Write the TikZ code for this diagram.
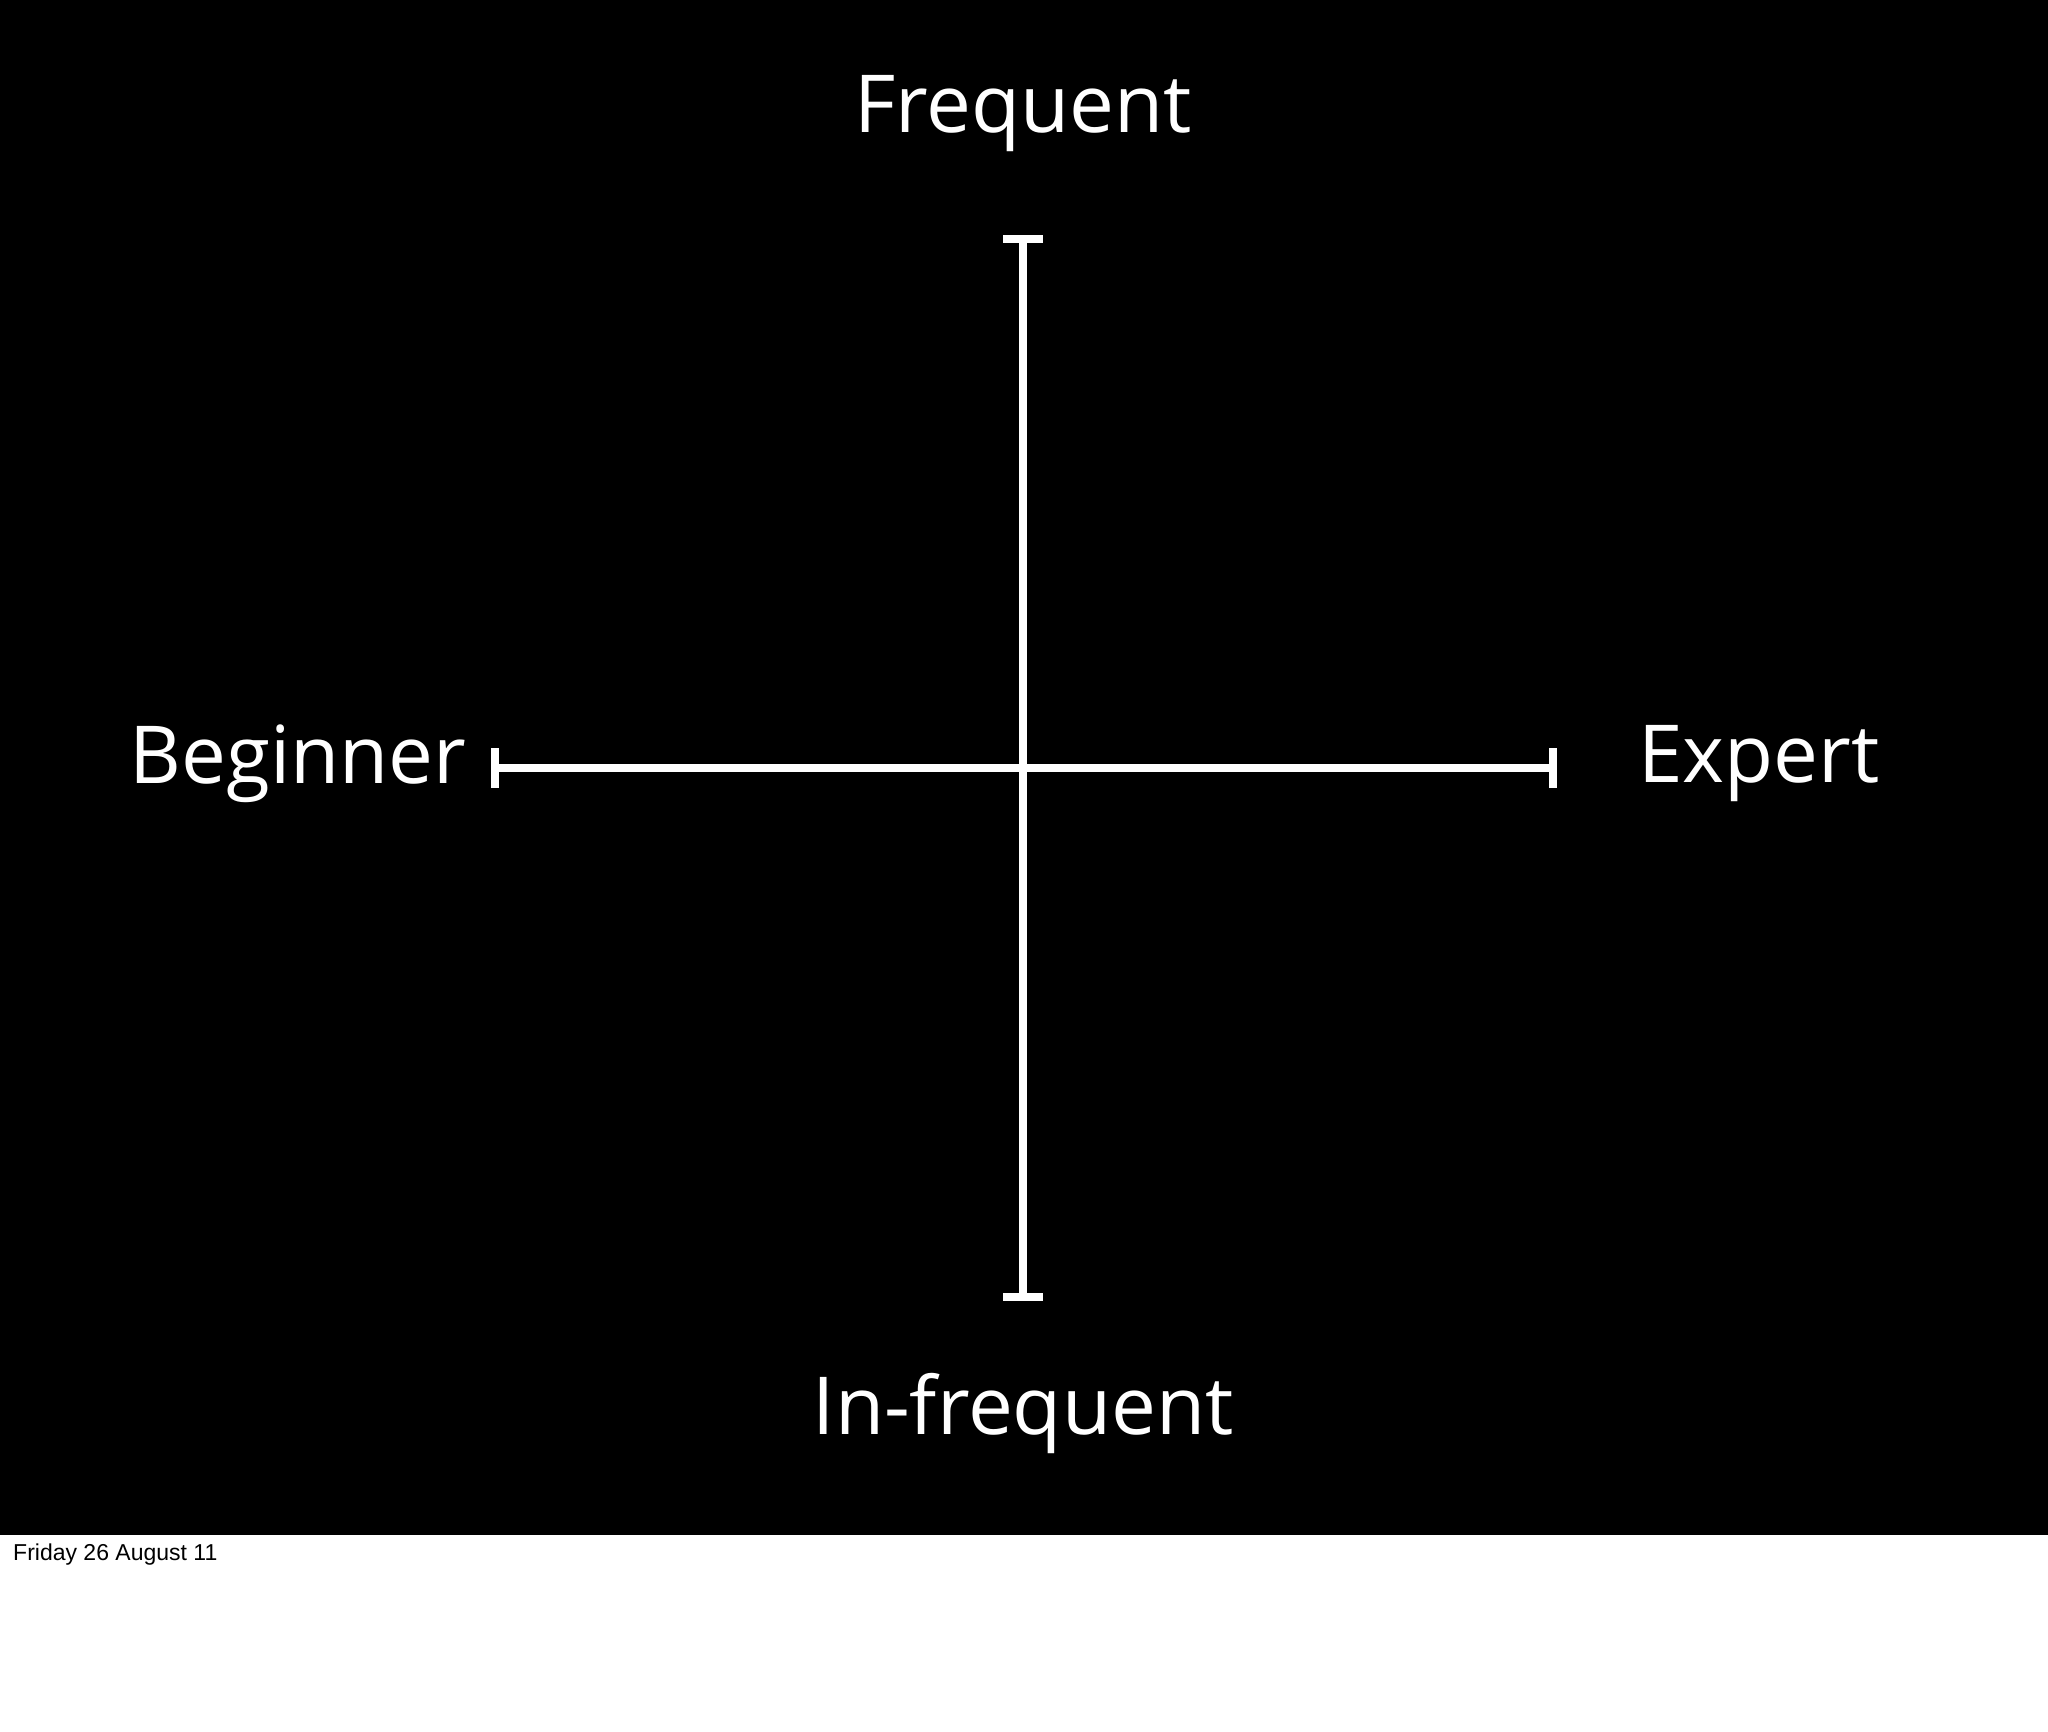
\documentclass[tikz,border=0pt]{standalone}
\usepackage{fontspec}
\setmainfont{Open Sans}
\newfontfamily\footfont{Liberation Sans}
\begin{document}
\begin{tikzpicture}[x=1pt,y=-1pt,
  axis/.style={white,line width=8pt},
  lab/.style={text=white,font=\fontsize{80}{96}\selectfont,inner sep=0pt}]
\useasboundingbox (0,0) rectangle (2048,1732);
\fill[black] (0,0) rectangle (2048,1535);
\coordinate (t) at (1023,239);
\coordinate (b) at (1023,1297);
\coordinate (l) at (495,768);
\coordinate (r) at (1553,768);
\draw[axis] (t) -- (b);
\draw[axis] (l) -- (r);
\draw[axis] ([xshift=-20pt]t) -- ([xshift=20pt]t);
\draw[axis] ([xshift=-20pt]b) -- ([xshift=20pt]b);
\draw[axis] ([yshift=-20pt]l) -- ([yshift=20pt]l);
\draw[axis] ([yshift=-20pt]r) -- ([yshift=20pt]r);
\node[lab] (fr) at (1023,114) {Frequent};
\node[lab] (be) at (298,764) {Beginner};
\node[lab] (ex) at (1759,764) {Expert};
\node[lab] (in) at (1023,1413) {In-frequent};
\node[anchor=west,inner sep=0pt,font=\footfont\fontsize{23}{28}\selectfont] (ft) at (13,1555) {Friday 26 August 11};
\end{tikzpicture}
\end{document}
